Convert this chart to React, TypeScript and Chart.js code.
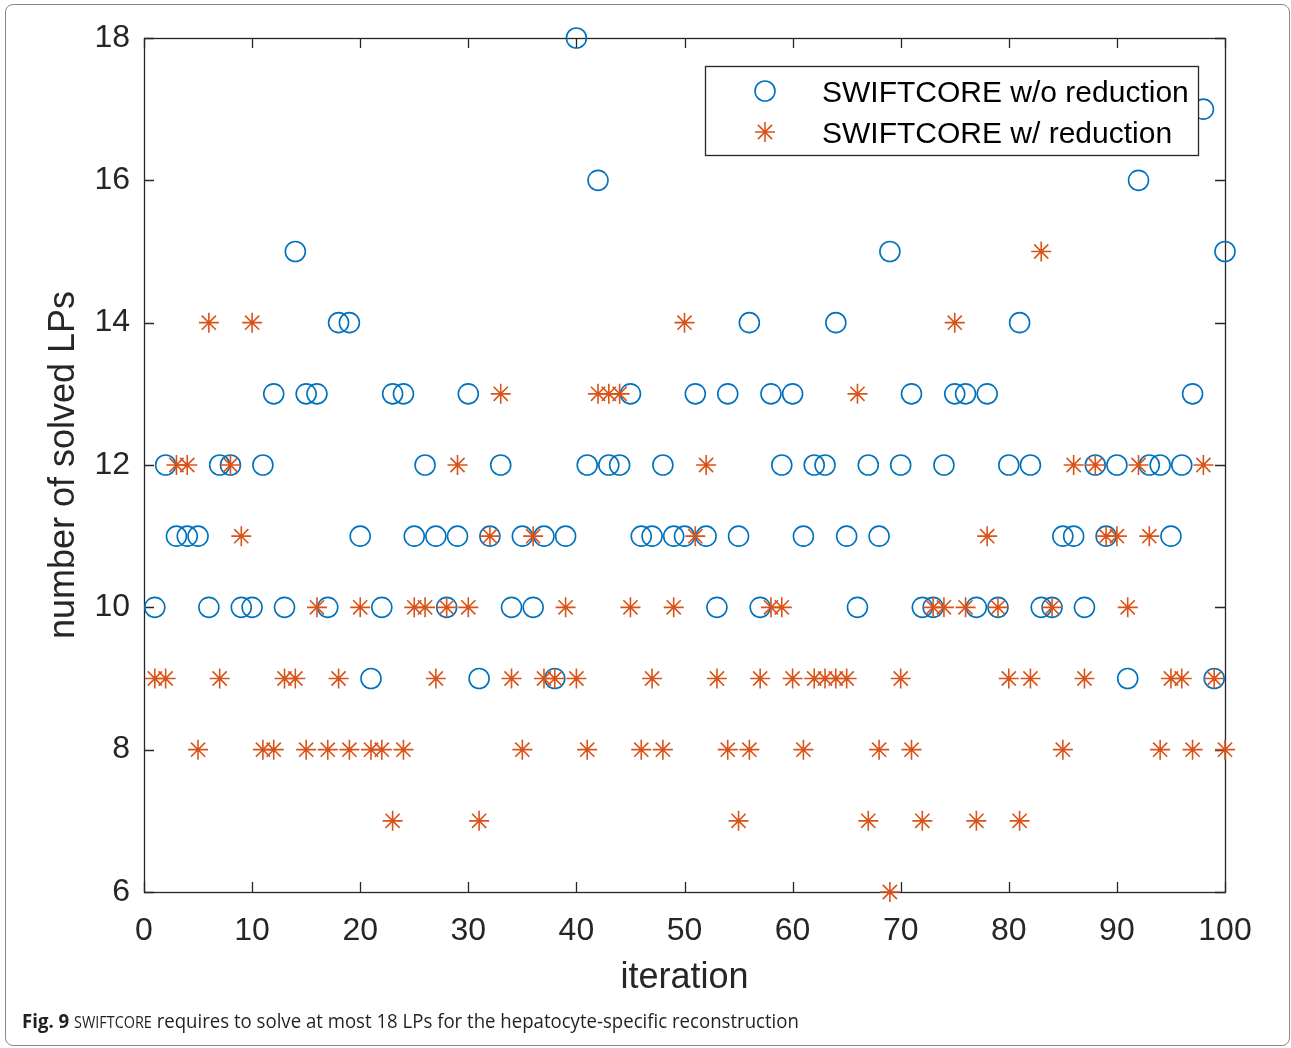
import React, { useEffect, useRef } from "react";
import { Chart, registerables } from "chart.js";

Chart.register(...registerables);

// ---- data ----
const iterations = [
  1, 2, 3, 4, 5, 6, 7, 8, 9, 10,
  11, 12, 13, 14, 15, 16, 17, 18, 19, 20,
  21, 22, 23, 24, 25, 26, 27, 28, 29, 30,
  31, 32, 33, 34, 35, 36, 37, 38, 39, 40,
  41, 42, 43, 44, 45, 46, 47, 48, 49, 50,
  51, 52, 53, 54, 55, 56, 57, 58, 59, 60,
  61, 62, 63, 64, 65, 66, 67, 68, 69, 70,
  71, 72, 73, 74, 75, 76, 77, 78, 79, 80,
  81, 82, 83, 84, 85, 86, 87, 88, 89, 90,
  91, 92, 93, 94, 95, 96, 97, 98, 99, 100,
];

const lpsWithoutReduction = [
  10, 12, 11, 11, 11, 10, 12, 12, 10, 10,
  12, 13, 10, 15, 13, 13, 10, 14, 14, 11,
  9, 10, 13, 13, 11, 12, 11, 10, 11, 13,
  9, 11, 12, 10, 11, 10, 11, 9, 11, 18,
  12, 16, 12, 12, 13, 11, 11, 12, 11, 11,
  13, 11, 10, 13, 11, 14, 10, 13, 12, 13,
  11, 12, 12, 14, 11, 10, 12, 11, 15, 12,
  13, 10, 10, 12, 13, 13, 10, 13, 10, 12,
  14, 12, 10, 10, 11, 11, 10, 12, 11, 12,
  9, 16, 12, 12, 11, 12, 13, 17, 9, 15,
];

const lpsWithReduction = [
  9, 9, 12, 12, 8, 14, 9, 12, 11, 14,
  8, 8, 9, 9, 8, 10, 8, 9, 8, 10,
  8, 8, 7, 8, 10, 10, 9, 10, 12, 10,
  7, 11, 13, 9, 8, 11, 9, 9, 10, 9,
  8, 13, 13, 13, 10, 8, 9, 8, 10, 14,
  11, 12, 9, 8, 7, 8, 9, 10, 10, 9,
  8, 9, 9, 9, 9, 13, 7, 8, 6, 9,
  8, 7, 10, 10, 14, 10, 7, 11, 10, 9,
  7, 9, 15, 10, 8, 12, 9, 12, 11, 11,
  10, 12, 11, 8, 9, 9, 8, 12, 9, 8,
];

const xTickValues = [0, 10, 20, 30, 40, 50, 60, 70, 80, 90, 100];
const yTickValues = [6, 8, 10, 12, 14, 16, 18];
const seriesLabels = ["SWIFTCORE w/o reduction", "SWIFTCORE w/ reduction"];
const xAxisTitle = "iteration";
const yAxisTitle = "number of solved LPs";

// ---- styles ----
const BLUE = "#0072BD";
const ORANGE = "#D95319";
const AXIS = "#262626";
const FONT = "'Liberation Sans', Arial, Helvetica, sans-serif";

function drawMarker(ctx: CanvasRenderingContext2D, style: string, x: number, y: number, r: number, color: string) {
  ctx.save();
  ctx.strokeStyle = color;
  ctx.lineWidth = 1.6;
  ctx.beginPath();
  if (style === "circle") {
    ctx.arc(x, y, r, 0, Math.PI * 2);
  } else {
    const d = r * Math.SQRT1_2;
    ctx.moveTo(x - r, y); ctx.lineTo(x + r, y);
    ctx.moveTo(x, y - r); ctx.lineTo(x, y + r);
    ctx.moveTo(x - d, y - d); ctx.lineTo(x + d, y + d);
    ctx.moveTo(x - d, y + d); ctx.lineTo(x + d, y - d);
  }
  ctx.stroke();
  ctx.restore();
}

const boxTicksPlugin = {
  id: "boxTicks",
  beforeDatasetsDraw(chart: any) {
    const { ctx, chartArea: a, scales } = chart;
    const L = 10;
    ctx.save();
    ctx.strokeStyle = AXIS;
    ctx.lineWidth = 1.3;
    ctx.strokeRect(a.left + 0.5, a.top + 0.5, a.right - a.left, a.bottom - a.top);
    ctx.beginPath();
    for (const t of scales.x.ticks) {
      const px = Math.round(scales.x.getPixelForValue(t.value)) + 0.5;
      ctx.moveTo(px, a.bottom); ctx.lineTo(px, a.bottom - L);
      ctx.moveTo(px, a.top); ctx.lineTo(px, a.top + L);
    }
    for (const t of scales.y.ticks) {
      const py = Math.round(scales.y.getPixelForValue(t.value)) + 0.5;
      ctx.moveTo(a.left, py); ctx.lineTo(a.left + L, py);
      ctx.moveTo(a.right, py); ctx.lineTo(a.right - L, py);
    }
    ctx.stroke();
    ctx.restore();
  },
};

const legendPlugin = {
  id: "matlabLegend",
  afterDatasetsDraw(chart: any) {
    const { ctx, chartArea: a } = chart;
    const right = a.right - 27;
    const top = a.top + 28;
    const w = 493;
    const h = 89;
    const left = right - w;
    ctx.save();
    ctx.fillStyle = "#ffffff";
    ctx.fillRect(left, top, w, h);
    ctx.strokeStyle = AXIS;
    ctx.lineWidth = 1.3;
    ctx.strokeRect(left + 0.5, top + 0.5, w, h);
    const rows = [top + 25, top + 66];
    const styles = ["circle", "star"];
    const colors = [BLUE, ORANGE];
    ctx.font = `30px ${FONT}`;
    ctx.fillStyle = "#000000";
    ctx.textBaseline = "middle";
    ctx.textAlign = "left";
    rows.forEach((ry, i) => {
      drawMarker(ctx, styles[i], left + 60, ry, 10, colors[i]);
      ctx.fillText(seriesLabels[i], left + 117, ry + 3);
    });
    ctx.restore();
  },
};

function ScatterChart() {
  const ref = useRef<HTMLCanvasElement | null>(null);
  useEffect(() => {
    if (!ref.current) return;
    const chart = new Chart(ref.current, {
      type: "scatter",
      data: {
        datasets: [
          {
            label: seriesLabels[1],
            data: iterations.map((x, i) => ({ x, y: lpsWithReduction[i] })),
            pointStyle: "star",
            pointRadius: 10,
            borderColor: ORANGE,
            backgroundColor: "transparent",
            borderWidth: 1.6,
            clip: false as any,
          },
          {
            label: seriesLabels[0],
            data: iterations.map((x, i) => ({ x, y: lpsWithoutReduction[i] })),
            pointStyle: "circle",
            pointRadius: 10,
            borderColor: BLUE,
            backgroundColor: "transparent",
            borderWidth: 1.6,
            clip: false as any,
          },
        ],
      },
      options: {
        responsive: false,
        animation: false,
        events: [],
        layout: { padding: { left: 0, right: 66, top: 38, bottom: 0 } },
        plugins: { legend: { display: false }, tooltip: { enabled: false } },
        scales: {
          x: {
            type: "linear",
            min: 0,
            max: 100,
            afterBuildTicks: (s: any) => { s.ticks = xTickValues.map((v) => ({ value: v })); },
            afterFit: (s: any) => { s.height = 156; },
            grid: { display: false, drawTicks: false },
            border: { display: false },
            ticks: { color: AXIS, font: { family: FONT, size: 32 }, padding: 20, maxRotation: 0 },
            title: {
              display: true,
              text: xAxisTitle,
              color: AXIS,
              font: { family: FONT, size: 36 },
              padding: { top: 0, bottom: 48 },
            },
          },
          y: {
            type: "linear",
            min: 6,
            max: 18,
            afterBuildTicks: (s: any) => { s.ticks = yTickValues.map((v) => ({ value: v })); },
            afterFit: (s: any) => { s.width = 144; },
            grid: { display: false, drawTicks: false },
            border: { display: false },
            ticks: { color: AXIS, font: { family: FONT, size: 32 }, padding: 14 },
            title: {
              display: true,
              text: yAxisTitle,
              color: AXIS,
              font: { family: FONT, size: 36 },
              padding: { top: 42, bottom: 0 },
            },
          },
        },
      },
      plugins: [boxTicksPlugin, legendPlugin],
    });
    return () => chart.destroy();
  }, []);
  return <canvas ref={ref} width={1291} height={1048} style={{ position: "absolute", left: 0, top: 0 }} />;
}

export default function App() {
  return (
    <div style={{ position: "absolute", left: 0, top: 0, width: 1291, height: 1048, background: "#fff", overflow: "hidden" }}>
      <div
        style={{
          position: "absolute",
          left: 5,
          top: 4,
          width: 1283,
          height: 1040,
          border: "1px solid #8a8a8a",
          borderRadius: 8,
        }}
      />
      <ScatterChart />
      <div
        style={{
          position: "absolute",
          left: 22,
          top: 1007,
          fontFamily: "'Open Sans', 'Noto Sans', sans-serif",
          fontSize: 20,
          lineHeight: "28px",
          color: "#231f20",
          whiteSpace: "nowrap",
          transform: "scaleX(0.93)",
          transformOrigin: "left center",
        }}
      >
        <b>Fig. 9</b>{" "}
        <span style={{ fontSize: 15.5 }}>SWIFTCORE</span> requires to solve at most 18 LPs for the hepatocyte-specific reconstruction
      </div>
    </div>
  );
}
